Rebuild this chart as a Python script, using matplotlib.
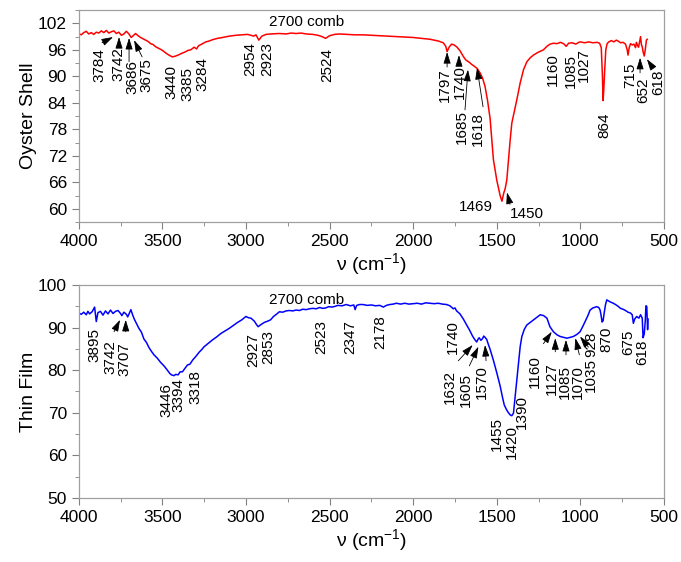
import matplotlib
matplotlib.use("Agg")
import matplotlib.pyplot as plt
from matplotlib.ticker import MultipleLocator

plt.rcParams["font.family"] = ["Liberation Sans", "DejaVu Sans"]
plt.rcParams["mathtext.fontset"] = "custom"
plt.rcParams["mathtext.rm"] = "Liberation Sans"
plt.rcParams["mathtext.it"] = "Liberation Sans"

# ---- Oyster shell spectrum (wavenumber, transmittance) ----
oyster_wn = [4000, 3985, 3970, 3955, 3940, 3925, 3910, 3895, 3880, 3865, 3850, 3835, 3820, 3805,
             3790, 3775, 3760, 3745, 3730, 3715, 3700, 3686, 3672, 3660, 3645, 3630, 3615, 3600,
             3585, 3570, 3555, 3540, 3520, 3500, 3480, 3460, 3440, 3420, 3400, 3385, 3365, 3345,
             3330, 3310, 3295, 3284, 3265, 3240, 3220, 3200, 3170, 3140, 3100, 3060, 3020, 2990,
             2970, 2954, 2940, 2923, 2905, 2880, 2850, 2800, 2760, 2730, 2700, 2670, 2640, 2600,
             2570, 2545, 2524, 2500, 2470, 2440, 2400, 2350, 2300, 2250, 2200, 2150, 2100, 2050,
             2000, 1950, 1900, 1850, 1820, 1805, 1797, 1785, 1770, 1755, 1740, 1720, 1700, 1685,
             1665, 1650, 1635, 1618, 1600, 1585, 1570, 1555, 1540, 1520, 1500, 1480, 1469, 1458,
             1450, 1440, 1430, 1420, 1410, 1395, 1380, 1360, 1340, 1320, 1300, 1281, 1250, 1221,
             1200, 1181, 1160, 1140, 1120, 1100, 1085, 1070, 1050, 1027, 1010, 1000, 975, 950,
             925, 900, 885, 875, 868, 864, 860, 855, 848, 840, 830, 815, 800, 785, 770, 760, 745,
             730, 720, 715, 708, 700, 690, 680, 670, 665, 658, 652, 645, 640, 635, 630, 624, 618,
             612, 605, 600]
oyster_t = [99.7, 99.4, 99.9, 100.2, 99.6, 99.9, 99.5, 100.0, 99.8, 100.3, 99.9, 100.4, 99.8, 100.1,
            100.3, 99.7, 100.0, 99.3, 99.6, 100.2, 99.6, 98.8, 99.3, 99.7, 99.2, 98.8, 98.5, 98.2,
            97.9, 97.4, 97.2, 96.7, 96.3, 95.9, 95.3, 94.8, 94.4, 94.6, 94.9, 95.2, 95.5, 95.9,
            96.0, 96.6, 96.2, 96.9, 97.3, 97.8, 98.0, 98.3, 98.6, 98.8, 99.1, 99.3, 99.4, 99.5,
            99.3, 99.1, 99.4, 98.2, 99.1, 99.5, 99.6, 99.7, 99.6, 99.8, 99.7, 99.8, 99.6, 99.5,
            99.3, 99.0, 98.6, 99.2, 99.5, 99.6, 99.5, 99.4, 99.4, 99.3, 99.2, 99.1, 99.0, 98.9,
            98.8, 98.6, 98.4, 98.0, 97.6, 96.8, 95.6, 96.6, 97.3, 97.1, 96.7, 95.8, 94.5, 93.7,
            93.2, 92.7, 92.3, 91.8, 90.8, 89.6, 87.7, 84.5, 80.5, 71.1, 66.5, 63.0, 61.7, 63.6,
            64.5, 66.5, 71.1, 75.5, 79.4, 82.0, 84.7, 88.5, 91.5, 93.3, 94.2, 94.8, 95.5, 96.0,
            96.8, 97.3, 97.5, 97.4, 97.7, 97.4, 96.8, 97.5, 97.6, 97.3, 97.7, 97.8, 97.6, 97.8,
            97.6, 97.7, 97.5, 96.5, 90.0, 84.5, 87.0, 91.0, 96.0, 97.4, 97.8, 98.1, 97.8, 98.2,
            97.9, 97.6, 97.7, 97.3, 96.0, 94.8, 96.5, 97.4, 97.1, 97.3, 96.5, 97.7, 97.0, 96.6,
            98.0, 99.0, 97.2, 96.7, 95.4, 94.6, 96.0, 98.2, 98.4]

# ---- Thin film spectrum ----
film_wn = [4000, 3985, 3970, 3955, 3945, 3935, 3920, 3905, 3895, 3885, 3870, 3855, 3840, 3825,
           3810, 3795, 3780, 3765, 3750, 3742, 3730, 3715, 3707, 3695, 3688, 3678, 3668, 3655,
           3640, 3625, 3610, 3595, 3580, 3565, 3550, 3530, 3510, 3490, 3470, 3455, 3446, 3430,
           3420, 3405, 3394, 3380, 3365, 3350, 3335, 3318, 3300, 3280, 3265, 3250, 3225, 3200,
           3175, 3150, 3125, 3100, 3075, 3050, 3025, 3000, 2985, 2970, 2950, 2935, 2927, 2910,
           2890, 2870, 2853, 2835, 2815, 2800, 2780, 2760, 2740, 2720, 2700, 2680, 2660, 2640,
           2620, 2600, 2580, 2560, 2540, 2523, 2505, 2485, 2465, 2450, 2425, 2400, 2375, 2355,
           2347, 2338, 2320, 2300, 2275, 2250, 2225, 2200, 2178, 2160, 2140, 2120, 2100, 2075,
           2050, 2025, 2000, 1975, 1950, 1925, 1900, 1875, 1850, 1825, 1800, 1780, 1760, 1750,
           1740, 1720, 1700, 1680, 1660, 1645, 1632, 1620, 1610, 1605, 1595, 1585, 1578, 1570,
           1560, 1550, 1540, 1520, 1500, 1480, 1465, 1455, 1440, 1430, 1420, 1410, 1400, 1390,
           1380, 1370, 1360, 1350, 1335, 1320, 1300, 1280, 1260, 1240, 1220, 1200, 1182, 1161,
           1140, 1121, 1100, 1081, 1060, 1042, 1020, 1002, 985, 972, 955, 942, 925, 902, 890,
           882, 876, 870, 864, 858, 850, 842, 830, 815, 803, 790, 775, 760, 745, 730, 715, 700,
           690, 683, 675, 663, 650, 640, 630, 625, 618, 612, 608, 603, 598, 595]
film_t = [93.4, 93.1, 93.6, 93.0, 93.8, 93.2, 93.7, 94.8, 91.4, 93.5, 93.8, 92.9, 93.9, 93.2,
          94.1, 93.3, 93.8, 94.0, 93.3, 92.8, 93.6, 93.1, 92.5, 93.6, 94.2, 93.0, 92.0, 91.0,
          89.8, 88.9, 87.3, 86.5, 85.3, 84.4, 83.6, 82.8, 81.8, 81.0, 80.0, 79.2, 78.9, 78.7,
          79.0, 78.9, 79.6, 79.6, 80.4, 81.2, 81.4, 82.4, 83.2, 84.2, 84.8, 85.5, 86.3, 87.1,
          87.8, 88.6, 89.2, 89.8, 90.5, 91.2, 91.8, 92.6, 92.3, 92.2, 91.5, 90.6, 90.2, 90.7,
          91.2, 91.5, 91.8, 92.6, 93.2, 93.7, 93.6, 93.9, 94.0, 93.9, 94.1, 94.0, 94.3, 94.2,
          94.4, 94.5, 94.4, 94.7, 94.5, 94.6, 94.9, 94.8, 95.0, 95.2, 95.1, 95.4, 95.1, 95.3,
          94.2, 95.2, 95.4, 95.4, 95.2, 95.3, 95.1, 95.2, 94.8, 95.2, 95.4, 95.5, 95.7, 95.5,
          95.7, 95.5, 95.6, 95.7, 95.5, 95.8, 95.7, 95.6, 95.7, 95.5, 95.4, 95.1, 94.4, 94.6,
          93.9, 93.2, 92.0, 90.6, 89.2, 88.0, 87.2, 86.6, 87.4, 87.6, 87.0, 87.4, 88.0, 87.7,
          87.2, 86.0, 84.9, 82.3, 79.4, 76.3, 73.5, 71.8, 70.6, 70.0, 69.5, 69.3, 69.9, 73.8,
          77.5, 81.7, 85.5, 87.9, 89.6, 90.6, 91.2, 91.8, 92.4, 93.0, 92.8, 92.2, 90.2, 89.0,
          88.3, 87.9, 87.7, 87.5, 87.7, 87.9, 88.4, 89.0, 90.3, 91.4, 92.8, 94.1, 94.6, 94.9, 94.7,
          94.1, 92.8, 91.3, 91.6, 93.3, 95.3, 96.5, 96.2, 95.9, 95.7, 95.4, 95.0, 94.5, 94.3, 94.0,
          93.6, 93.4, 93.0, 91.0, 92.0, 92.6, 92.2, 93.0, 92.2, 87.6, 88.5, 91.5, 95.1, 95.0,
          89.5, 92.0]

# ---- peak labels: (text, x, y of top of text) ----
oyster_labels = [("3784", 3879, 96.4), ("3742", 3765, 96.6), ("3686", 3681, 93.7),
                 ("3675", 3597, 94.2), ("3440", 3448, 92.6), ("3385", 3352, 92.1),
                 ("3284", 3263, 94.4), ("2954", 2976, 97.8), ("2923", 2874, 97.8),
                 ("2524", 2515, 96.4), ("1797", 1809, 91.9), ("1740", 1720, 92.6),
                 ("1685", 1707, 82.4), ("1618", 1611, 82.0), ("1160", 1166, 95.3),
                 ("1085", 1054, 95.0), ("1027", 978, 96.4), ("864", 858, 81.7),
                 ("715", 702, 93.0), ("652", 625, 89.7), ("618", 535, 91.5)]
# arrows: (tail x, tail y, head x, head y)
oyster_arrows = [(3861, 97.6, 3795, 98.9), (3759, 96.9, 3759, 98.9), (3699, 93.3, 3699, 98.7),
                 (3621, 94.4, 3669, 98.2), (1797, 92.1, 1797, 95.5), (1726, 92.6, 1726, 94.8),
                 (1690, 82.4, 1672, 91.5), (1582, 83.1, 1618, 91.9), (1421, 61.0, 1439, 63.7),
                 (643, 90.8, 643, 94.2), (566, 91.9, 602, 93.9)]

film_labels = [("3895", 3907, 89.9), ("3742", 3808, 87.1), ("3707", 3724, 86.6),
               ("3446", 3478, 77.0), ("3394", 3404, 78.2), ("3318", 3304, 80.0),
               ("2927", 2956, 88.7), ("2853", 2866, 89.4), ("2523", 2547, 91.8),
               ("2347", 2377, 91.8), ("2178", 2198, 93.0), ("1740", 1763, 91.8),
               ("1632", 1779, 80.0), ("1605", 1684, 79.3), ("1570", 1590, 81.2),
               ("1455", 1500, 69.0), ("1420", 1410, 67.1), ("1390", 1350, 74.2),
               ("1160", 1271, 83.6), ("1127", 1171, 81.9), ("1085", 1094, 81.2),
               ("1070", 1014, 81.2), ("1035", 936, 82.9), ("928", 932, 89.0),
               ("870", 842, 90.1), ("675", 713, 89.4), ("618", 629, 87.1)]
film_arrows = [(3789, 89.0, 3753, 91.8), (3719, 89.0, 3719, 91.8), (1730, 82.2, 1644, 85.9),
               (1664, 81.0, 1610, 85.5), (1564, 82.2, 1570, 85.9), (1221, 86.2, 1171, 89.0),
               (1150, 84.3, 1150, 87.5), (1086, 83.6, 1086, 87.1), (1006, 83.6, 1030, 87.5),
               (952, 85.4, 1002, 87.9)]

fig = plt.figure(figsize=(6.81, 5.62), dpi=100)
ax1 = fig.add_axes([0.1156, 0.605, 0.8594, 0.377])
ax2 = fig.add_axes([0.1156, 0.114, 0.8594, 0.379])

ax1.plot(oyster_wn, oyster_t, color="#ff0000", lw=1.1)
ax2.plot(film_wn, film_t, color="#0000ff", lw=1.1)


def style(ax, ylabel):
    ax.set_xlim(4000, 500)
    ax.xaxis.set_major_locator(MultipleLocator(500))
    ax.xaxis.set_minor_locator(MultipleLocator(250))
    for s in ax.spines.values():
        s.set_color("#a0a0a0")
        s.set_linewidth(0.9)
    ax.tick_params(which="both", direction="out", color="#808080", labelsize=12.5,
                   top=False, right=False)
    ax.tick_params(which="major", length=5)
    ax.tick_params(which="minor", length=3)
    ax.set_ylabel(ylabel, fontsize=14, labelpad=1)
    ax.set_xlabel(r"ν (cm$^{-1}$)", fontsize=14, labelpad=2)


style(ax1, "Oyster Shell")
ax1.set_ylim(57, 105)
ax1.yaxis.set_major_locator(MultipleLocator(6))
ax1.yaxis.set_minor_locator(MultipleLocator(3))
ax1.set_yticks(range(60, 103, 6))

style(ax2, "Thin Film")
ax2.set_ylim(50, 100)
ax2.yaxis.set_major_locator(MultipleLocator(10))
ax2.yaxis.set_minor_locator(MultipleLocator(5))

for txt, x, y in oyster_labels:
    ax1.text(x, y, txt, rotation=90, ha="center", va="top", fontsize=11)
for txt, x, y in film_labels:
    ax2.text(x, y, txt, rotation=90, ha="center", va="top", fontsize=11)

ax1.text(2637, 102.4, "2700 comb", ha="center", va="center", fontsize=11)
ax2.text(2637, 96.5, "2700 comb", ha="center", va="center", fontsize=11)
ax1.text(1523, 60.5, "1469", ha="right", va="center", fontsize=11)
ax1.text(1421, 58.7, "1450", ha="left", va="center", fontsize=11)

arrow_style = dict(arrowstyle="-|>,head_length=0.7,head_width=0.22", color="black", lw=0.6,
                   shrinkA=0, shrinkB=0)
for x0, y0, x1, y1 in oyster_arrows:
    ax1.annotate("", xy=(x1, y1), xytext=(x0, y0), arrowprops=arrow_style)
for x0, y0, x1, y1 in film_arrows:
    ax2.annotate("", xy=(x1, y1), xytext=(x0, y0), arrowprops=arrow_style)

fig.savefig("out.png", dpi=100)
